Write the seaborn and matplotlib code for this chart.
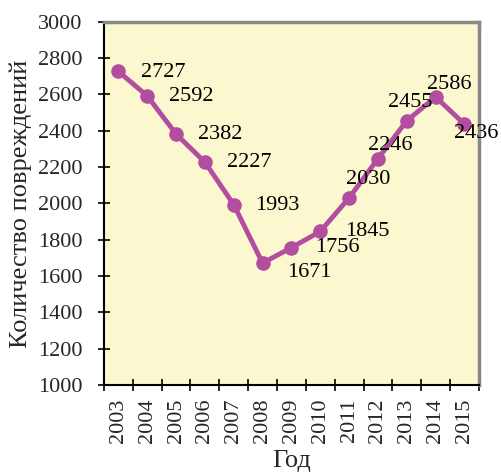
import matplotlib
matplotlib.use('Agg')
import matplotlib.pyplot as plt
import seaborn as sns
import numpy as np
import pandas as pd

years = [str(y) for y in range(2003, 2016)]
damages = [2727, 2592, 2382, 2227, 1993, 1671, 1756, 1845, 2030, 2246, 2455, 2586, 2436]

# label placement (pixels from the point, like excel "right"/"above")
label_dx = [45, 44, 44, 44, 44, 47, 46, 47, 19, 12, 3, 14, 12]
label_dy = [-1, -1, -1, 0, -1, -9, 0, 0, 18, 13, 18, 12, -9]

sns.set_style("ticks")
plt.rcParams['font.family'] = ['Liberation Serif', 'DejaVu Serif']

line_color = "#B34DA0"

df = pd.DataFrame({"year": years, "count": damages})

fig = plt.figure(figsize=(5.02, 4.74), dpi=100)
ax = fig.add_axes([0.207, 0.188, 0.747, 0.766])
ax.set_facecolor("#FBF7CF")

sns.lineplot(data=df, x="year", y="count", sort=False, ax=ax, color=line_color,
             linewidth=3.5, marker="o", markersize=10.5, markeredgewidth=0)

for i, (v, dx, dy) in enumerate(zip(damages, label_dx, label_dy)):
    ax.annotate(str(v), (i, v), xytext=(dx, dy), textcoords="offset pixels",
                ha="center", va="center", fontsize=16, color="black")

ax.set_ylim(1000, 3000)
ax.set_yticks(np.arange(1000, 3001, 200))
ax.set_xlim(-0.5, len(years) - 0.5)
ax.set_xticks(range(len(years)))
ax.set_xticklabels(years, rotation=90)
ax.set_xticks(np.arange(-0.5, len(years)), minor=True)
ax.tick_params(axis="x", which="major", length=0, labelsize=16, pad=10)
ax.tick_params(axis="x", which="minor", length=9, width=1.2, direction="inout", color="black")
ax.tick_params(axis="y", length=9, width=1.2, direction="inout", labelsize=16, color="black", pad=11)

for s in ["left", "bottom"]:
    ax.spines[s].set_color("black")
    ax.spines[s].set_linewidth(1.5)
for s in ["top", "right"]:
    ax.spines[s].set_color("#888888")
    ax.spines[s].set_linewidth(2.5)

ax.set_xlabel("Год", fontsize=19, labelpad=5)
ax.set_ylabel("Количество повреждений", fontsize=19, labelpad=4)

fig.savefig("out.png", dpi=100)
